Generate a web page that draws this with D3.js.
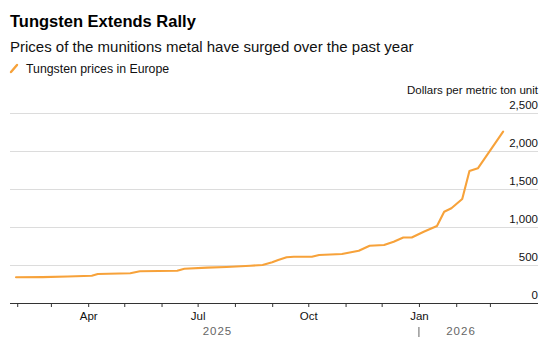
<!DOCTYPE html>
<html>
<head>
<meta charset="utf-8">
<script src="https://cdn.jsdelivr.net/npm/d3@7"></script>
<style>
  html, body { margin: 0; padding: 0; background: #fff; }
  svg { display: block; font-family: "Liberation Sans", Arial, sans-serif; }
</style>
</head>
<body>
<svg id="chart" width="556" height="356"></svg>
<script>
// ---- Data ----
const dates = [
  "2025-01-31","2025-02-22","2025-03-15","2025-04-04","2025-04-09","2025-05-06","2025-05-14",
  "2025-06-14","2025-06-20","2025-07-09","2025-07-25","2025-08-14","2025-08-24","2025-09-01",
  "2025-09-06","2025-09-13","2025-09-19","2025-10-04","2025-10-10","2025-10-29","2025-11-12",
  "2025-11-21","2025-12-03","2025-12-11","2025-12-19","2025-12-26","2026-01-05","2026-01-16",
  "2026-01-22","2026-01-28","2026-02-06","2026-02-12","2026-02-19","2026-03-12"
];
const prices = [
  338, 340, 348, 359, 382, 391, 417,
  425, 451, 465, 474, 491, 500, 536,
  566, 601, 609, 609, 632, 645, 688,
  754, 763, 807, 862, 862, 938, 1013,
  1201, 1246, 1368, 1737, 1772, 2254
];
const yTicks = [0, 500, 1000, 1500, 2000, 2500];
const xTickDates = [
  "2025-02-01","2025-03-01","2025-04-01","2025-05-01","2025-06-01","2025-07-01","2025-08-01",
  "2025-09-01","2025-10-01","2025-11-01","2025-12-01","2026-01-01","2026-02-01","2026-03-01"
];
const xLabelMonths = ["Apr", "Jul", "Oct", "Jan"];
const years = ["2025", "2026"];

const title = "Tungsten Extends Rally";
const subtitle = "Prices of the munitions metal have surged over the past year";
const legendLabel = "Tungsten prices in Europe";
const unitLabel = "Dollars per metric ton unit";

// ---- Setup ----
const parse = d3.utcParse("%Y-%m-%d");
const data = dates.map((d, i) => ({ date: parse(d), value: prices[i] }));
const tickDates = xTickDates.map(parse);

const mLeft = 10, mRight = 538, mTop = 113, mBottom = 303;
const color = "#F7A23A";

const svg = d3.select("#chart");

const x = d3.scaleUtc()
  .domain([parse("2025-01-26"), parse("2026-04-10")])
  .range([mLeft, mRight]);
const y = d3.scaleLinear().domain([0, 2500]).range([mBottom, mTop]);

// Title / subtitle
svg.append("text").attr("x", 10).attr("y", 27)
  .attr("font-size", 16.5).attr("font-weight", 700).attr("fill", "#000")
  .text(title);
svg.append("text").attr("x", 10).attr("y", 52)
  .attr("font-size", 15).attr("fill", "#111")
  .text(subtitle);

// Legend
svg.append("line").attr("x1", 11).attr("y1", 72).attr("x2", 17).attr("y2", 65)
  .attr("stroke", color).attr("stroke-width", 2.4).attr("stroke-linecap", "round");
svg.append("text").attr("x", 26).attr("y", 72.5)
  .attr("font-size", 12.3).attr("fill", "#111").text(legendLabel);

// Unit label
svg.append("text").attr("x", mRight).attr("y", 94)
  .attr("text-anchor", "end").attr("font-size", 11.5).attr("fill", "#111")
  .text(unitLabel);

// Gridlines + y labels
const yAxis = d3.axisRight(y).tickValues(yTicks)
  .tickSize(mRight - mLeft)
  .tickFormat(d3.format(","));
const yg = svg.append("g").attr("transform", `translate(${mLeft},0)`).call(yAxis);
yg.select(".domain").remove();
yg.selectAll(".tick line").attr("stroke", "#dcdcdc").attr("stroke-width", 1)
  .filter(d => d === 0).remove();
yg.selectAll(".tick text")
  .attr("x", mRight - mLeft).attr("dy", -5)
  .attr("text-anchor", "end")
  .attr("font-size", 11.5).attr("fill", "#111")
  .attr("font-family", "Liberation Sans, Arial, sans-serif");

// Line
svg.append("path").datum(data)
  .attr("fill", "none").attr("stroke", color).attr("stroke-width", 2.1)
  .attr("stroke-linejoin", "round").attr("stroke-linecap", "round")
  .attr("d", d3.line().x(d => x(d.date)).y(d => y(d.value)));

// X axis
const fmt = d3.utcFormat("%b");
const xAxis = d3.axisBottom(x).tickValues(tickDates).tickSize(4)
  .tickFormat(d => xLabelMonths.includes(fmt(d)) ? fmt(d) : "");
const xg = svg.append("g").attr("transform", `translate(0,${mBottom})`).call(xAxis);
xg.select(".domain").attr("d", `M${mLeft},0.5H${mRight}`).attr("stroke", "#333").attr("stroke-width", 1.2);
xg.selectAll(".tick line").attr("stroke", "#333");
xg.selectAll(".tick text").attr("font-size", 11.5).attr("fill", "#111")
  .attr("y", 9).attr("font-family", "Liberation Sans, Arial, sans-serif");

// Year labels, centered over the data extent of each year
const yearBoundary = parse("2026-01-01");
const firstX = x(data[0].date), lastX = x(data[data.length - 1].date), bx = x(yearBoundary);
svg.append("text").attr("x", (firstX + bx) / 2).attr("y", 335)
  .attr("text-anchor", "middle").attr("font-size", 11.5).attr("fill", "#666")
  .attr("letter-spacing", 1).text(years[0]);
svg.append("text").attr("x", (bx + lastX) / 2).attr("y", 335)
  .attr("text-anchor", "middle").attr("font-size", 11.5).attr("fill", "#666")
  .attr("letter-spacing", 1).text(years[1]);
svg.append("line").attr("x1", bx).attr("x2", bx).attr("y1", 327).attr("y2", 337)
  .attr("stroke", "#666").attr("stroke-width", 1);
</script>
</body>
</html>
